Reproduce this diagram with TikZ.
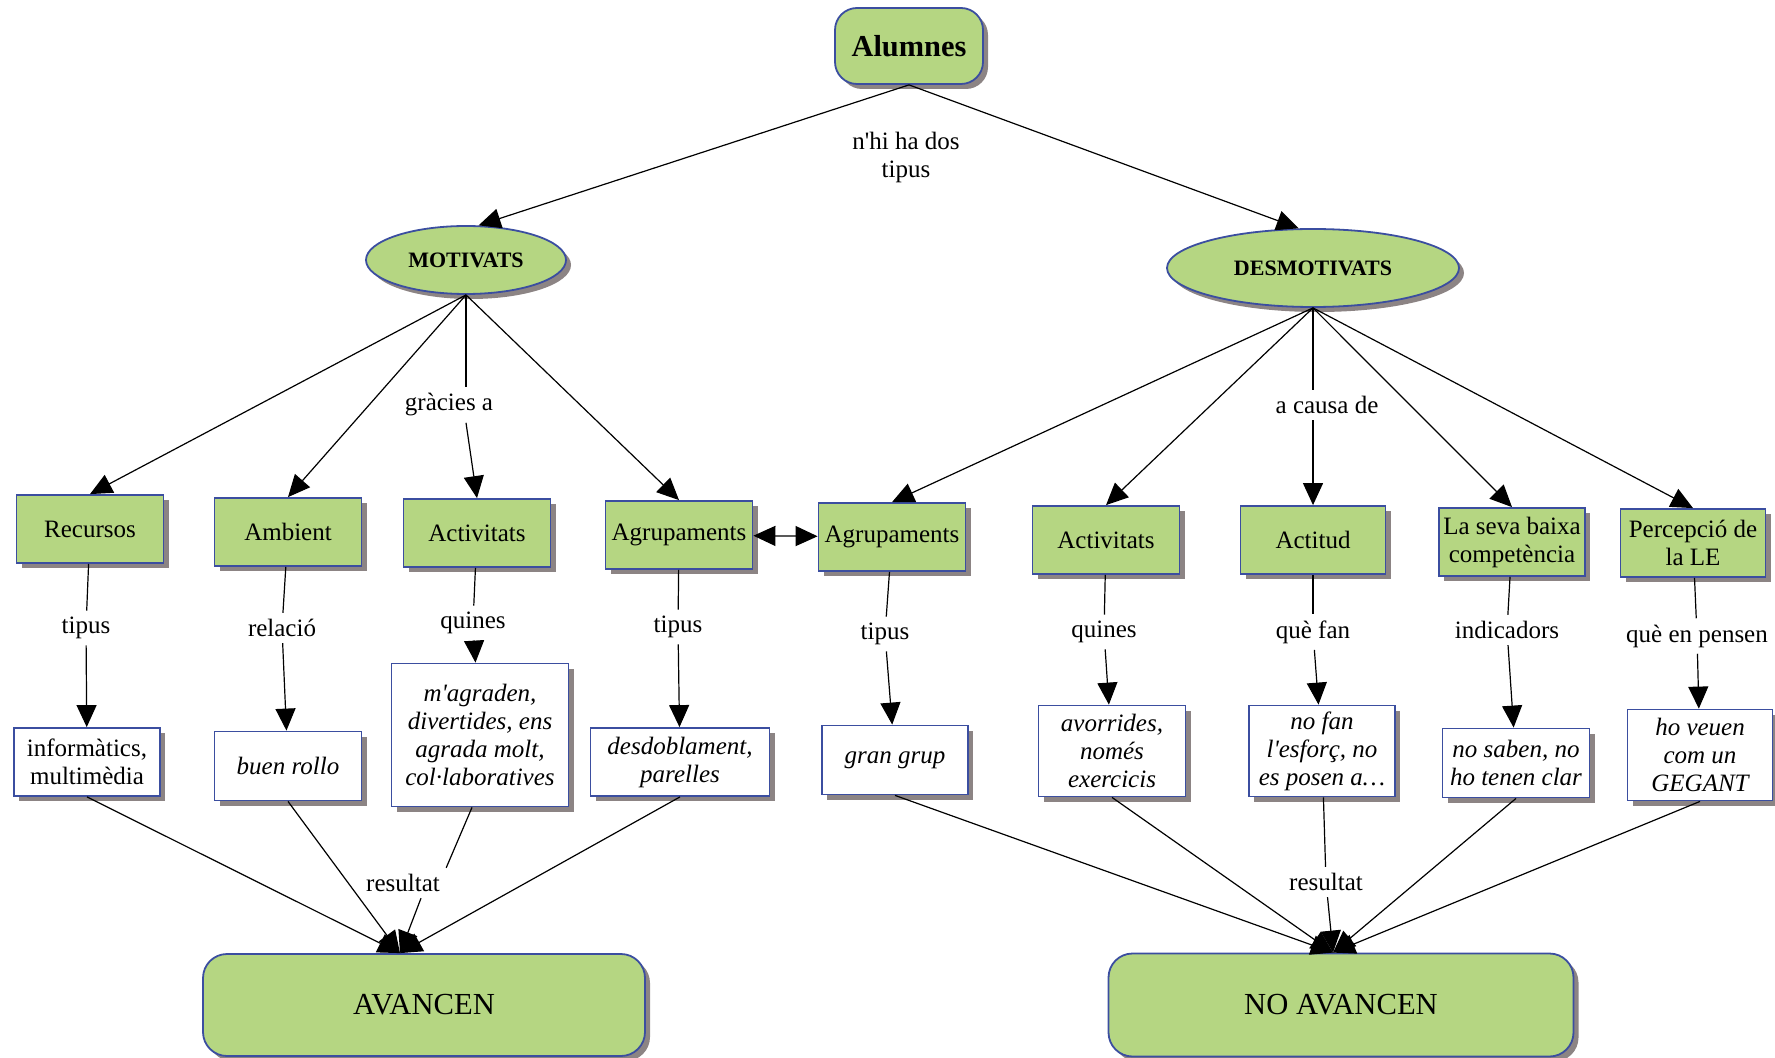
\documentclass[tikz,border=0pt]{standalone}
\usepackage{fontspec}
\setmainfont{Liberation Serif}[Ligatures=TeXOff]
\usetikzlibrary{arrows.meta,shapes.geometric,shadows,calc}
\definecolor{cgreen}{RGB}{181,214,130}
\definecolor{cblue}{RGB}{59,78,160}
\definecolor{cshadow}{RGB}{140,132,132}
\begin{document}
\begin{tikzpicture}[x=0.5pt,y=-0.5pt,
  shad/.style={drop shadow={shadow xshift=2.5pt,shadow yshift=-2.5pt,fill=cshadow,opacity=1}},
  concept/.style={rectangle,draw=cblue,line width=0.9pt,fill=cgreen,shad,align=center,inner sep=2pt,
    minimum width=73.5pt,minimum height=34pt,font=\fontsize{12.5}{14}\selectfont},
  leaf/.style={rectangle,draw=cblue,line width=0.9pt,fill=white,shad,align=center,inner sep=2pt,
    font=\fontsize{12.5}{14}\selectfont\itshape},
  oval/.style={ellipse,draw=cblue,line width=0.9pt,fill=cgreen,shad,inner sep=0pt,
    font=\fontsize{11}{12}\selectfont\bfseries},
  bigbox/.style={rectangle,rounded corners=12pt,draw=cblue,line width=0.9pt,fill=cgreen,shad,
    font=\fontsize{15.3}{18}\selectfont},
  lab/.style={align=center,inner sep=3pt,font=\fontsize{12.5}{14}\selectfont},
  conn/.style={draw=black,line width=0.6pt},
  arr/.style={conn,-{Triangle[length=11pt,width=10pt]}},
  dbl/.style={conn,{Triangle[length=11pt,width=10pt]}-{Triangle[length=11pt,width=10pt]}},
]
\useasboundingbox (0,0) rectangle (1775,1058);

% top level
\node[bigbox,rounded corners=11pt,minimum width=74pt,minimum height=38pt,
  font=\fontsize{15.2}{18}\selectfont\bfseries] (alumnes) at (909,46) {Alumnes};
\node[lab] (dos) at (906,157) {n'hi ha dos\\tipus};
\node[oval,minimum width=100pt,minimum height=34pt] (motivats) at (466,260) {MOTIVATS};
\node[oval,minimum width=146pt,minimum height=39pt] (desmot) at (1313,268) {DESMOTIVATS};

% linking phrases level 1
\node[lab] (gracies) at (449,405) {gràcies a};
\node[lab] (acausa) at (1327,405) {a causa de};

% green concepts
\node[concept] (recursos) at (90,529) {Recursos};
\node[concept] (ambient) at (288,532) {Ambient};
\node[concept] (activL) at (477,533) {Activitats};
\node[concept] (agrupL) at (679,535) {Agrupaments};
\node[concept] (agrupR) at (892,537) {Agrupaments};
\node[concept] (activR) at (1106,540) {Activitats};
\node[concept,minimum width=72.5pt] (actitud) at (1313,540) {Actitud};
\node[concept,minimum width=73pt] (baixa) at (1512,542) {La seva baixa\\competència};
\node[concept,minimum width=72.5pt] (percep) at (1693,543) {Percepció de\\la LE};

% linking phrases level 2
\node[lab] (t1) at (86,628) {tipus};
\node[lab] (relacio) at (282,628) {relació};
\node[lab] (quinesL) at (473,623) {quines};
\node[lab] (t2) at (678,627) {tipus};
\node[lab] (t3) at (885,634) {tipus};
\node[lab] (quinesR) at (1104,632) {quines};
\node[lab] (quefan) at (1313,632) {què fan};
\node[lab] (indic) at (1507,630) {indicadors};
\node[lab] (quepensen) at (1697,636) {què en pensen};

% white leaves
\node[leaf,minimum width=73pt,minimum height=34pt,font=\fontsize{12.5}{14}\selectfont] (info) at (87,762) {informàtics,\\multimèdia};
\node[leaf,minimum width=73.5pt,minimum height=34.5pt] (buen) at (288,766) {buen rollo};
\node[leaf,minimum width=88.5pt,minimum height=71.5pt] (magrad) at (480,735) {m'agraden,\\divertides, ens\\agrada molt,\\col·laboratives};
\node[leaf,minimum width=89.5pt,minimum height=34pt] (desdob) at (680,762) {desdoblament,\\parelles};
\node[leaf,minimum width=73pt,minimum height=34.5pt] (gran) at (895,760) {gran grup};
\node[leaf,minimum width=73.5pt,minimum height=45.5pt] (avorr) at (1112,751) {avorrides,\\només\\exercicis};
\node[leaf,minimum width=73pt,minimum height=45.5pt] (nofan) at (1322,751) {no fan\\l'esforç, no\\es posen a…};
\node[leaf,minimum width=73.5pt,minimum height=34.5pt] (nosaben) at (1516,763) {no saben, no\\ho tenen clar};
\node[leaf,minimum width=72.5pt,minimum height=45.5pt] (hoveuen) at (1700,755) {ho veuen\\com un\\GEGANT};

% result phrases and bottom concepts
\node[lab] (resL) at (403,883) {resultat};
\node[lab] (resR) at (1326,882) {resultat};
\node[bigbox,minimum width=221pt,minimum height=51pt] (avancen) at (424,1005) {AVANCEN};
\node[bigbox,minimum width=232.5pt,minimum height=51.5pt] (noav) at (1341,1005) {NO AVANCEN};

% connectors: top
\draw[arr] (alumnes.south) -- (motivats.70);
\draw[arr] (alumnes.south) -- (desmot.110);

% motivats fan
\draw[arr] (motivats.south) -- (recursos.north);
\draw[arr] (motivats.south) -- (ambient.north);
\draw[conn] (motivats.south) -- (motivats.south |- gracies.north);
\draw[arr] (motivats.south |- gracies.south) -- (activL.north);
\draw[arr] (motivats.south) -- (agrupL.north);

% desmotivats fan
\draw[arr] (desmot.south) -- (agrupR.north);
\draw[arr] (desmot.south) -- (activR.north);
\draw[conn] (desmot.south) -- (desmot.south |- acausa.north);
\draw[arr] (desmot.south |- acausa.south) -- (actitud.north);
\draw[arr] (desmot.south) -- (baixa.north);
\draw[arr] (desmot.south) -- (percep.north);

% double arrow
\draw[dbl] (agrupL) -- (agrupR);

% second level
\draw[conn] (recursos) -- (t1);  \draw[arr] (t1) -- (info);
\draw[conn] (ambient) -- (relacio); \draw[arr] (relacio) -- (buen);
\draw[conn] (activL) -- (quinesL); \draw[arr] (quinesL) -- (magrad);
\draw[conn] (agrupL) -- (t2); \draw[arr] (t2) -- (desdob);
\draw[conn] (agrupR) -- (t3); \draw[arr] (t3) -- (gran);
\draw[conn] (activR) -- (quinesR); \draw[arr] (quinesR) -- (avorr);
\draw[conn] (actitud) -- (quefan); \draw[arr] (quefan) -- (nofan);
\draw[conn] (baixa) -- (indic); \draw[arr] (indic) -- (nosaben);
\draw[conn] (percep) -- (quepensen); \draw[arr] (quepensen) -- (hoveuen);

% bottom left
\coordinate (avtip) at ($(avancen.north)+(-24,0)$);
\draw[arr] (info.south) -- (avtip);
\draw[arr] (buen.south) -- (avtip);
\draw[conn] ($(magrad.south)+(-8,0)$) -- (resL.north east);
\draw[arr] ($(resL.south)+(18,0)$) -- (avtip);
\draw[arr] (desdob.south) -- (avtip);

% bottom right
\coordinate (noavtip) at ($(noav.north)+(-8,0)$);
\draw[arr] (gran.south) -- (noavtip);
\draw[arr] (avorr.south) -- (noavtip);
\draw[conn] (nofan) -- (resR);
\draw[arr] (resR) -- (noavtip);
\draw[arr] (nosaben.south) -- (noavtip);
\draw[arr] (hoveuen.south) -- (noavtip);
\end{tikzpicture}
\end{document}
